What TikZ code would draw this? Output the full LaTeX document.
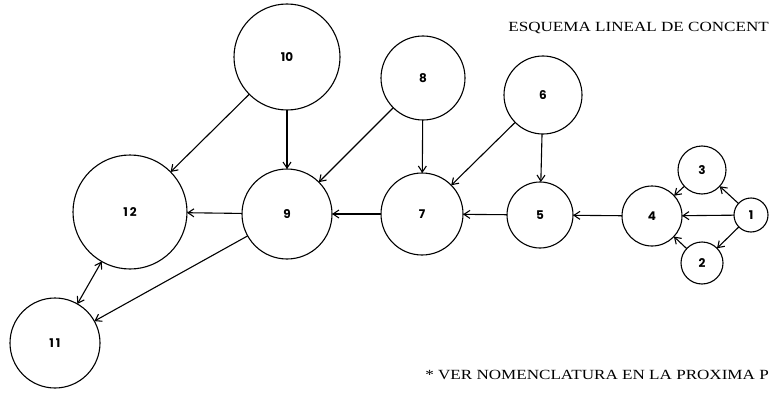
\documentclass[tikz,border=0pt]{standalone}
\usepackage{fontspec}
\setmainfont{Liberation Serif}
\newfontfamily\numfont{Poppins}
\usetikzlibrary{arrows.meta}
\begin{document}
\begin{tikzpicture}[x=1pt,y=-1pt,
  tank/.style={draw, circle, line width=1.1pt, inner sep=0pt, outer sep=0pt,
    font=\numfont\bfseries\fontsize{12}{14}\selectfont},
  flow/.style={line width=1.1pt, -{Straight Barb[length=6pt,width=8pt]}},
  twoway/.style={line width=1.1pt,
    {Straight Barb[length=6pt,width=8pt]}-{Straight Barb[length=6pt,width=8pt]}},
  caption/.style={inner sep=0pt, font=\fontsize{14}{16}\selectfont}]
\useasboundingbox (0,0) rectangle (770,393);

% tanks
\node[tank, minimum size=34pt]  (n1)  at (751,215) {1};
\node[tank, minimum size=42pt]  (n2)  at (702,263) {2};
\node[tank, minimum size=48pt]  (n3)  at (702,170) {3};
\node[tank, minimum size=60pt]  (n4)  at (652,216) {4};
\node[tank, minimum size=66pt]  (n5)  at (540,215) {5};
\node[tank, minimum size=78pt]  (n6)  at (543,95)  {6};
\node[tank, minimum size=82pt]  (n7)  at (422,214) {7};
\node[tank, minimum size=84pt]  (n8)  at (423,78)  {8};
\node[tank, minimum size=90pt]  (n9)  at (287,214) {9};
\node[tank, minimum size=106pt] (n10) at (287,57)  {10};
\node[tank, minimum size=90pt]  (n11) at (55,343)  {1\kern2pt1};
\node[tank, minimum size=114pt] (n12) at (130,212) {1\kern2pt2};

% flows
\draw[flow] (n1) -- (n4);
\draw[flow] (n1) -- (n3);
\draw[flow] (n1) -- (n2);
\draw[flow] (n3) -- (n4);
\draw[flow] (n2) -- (n4);
\draw[flow] (n4) -- (n5);
\draw[flow] (n6) -- (n5);
\draw[flow] (n6) -- (n7);
\draw[flow] (n5) -- (n7);
\draw[flow] (n8) -- (n7);
\draw[flow] (n8) -- (n9);
\draw[flow] (n7) -- (n9);
\draw[flow] (n10) -- (n9);
\draw[flow] (n10) -- (n12);
\draw[flow] (n9) -- (n12);
\draw[flow] (n9) -- (n11);
\draw[twoway] (n12) -- (n11);

% captions
\node[caption, anchor=base east] (title) at (769,32)
  {\scalebox{1.22}[1]{ESQUEMA LINEAL DE CONCENT}};
\node[caption, anchor=base east] (note) at (769,379)
  {\scalebox{1.22}[1]{* VER NOMENCLATURA EN LA PROXIMA P}};
\end{tikzpicture}
\end{document}
